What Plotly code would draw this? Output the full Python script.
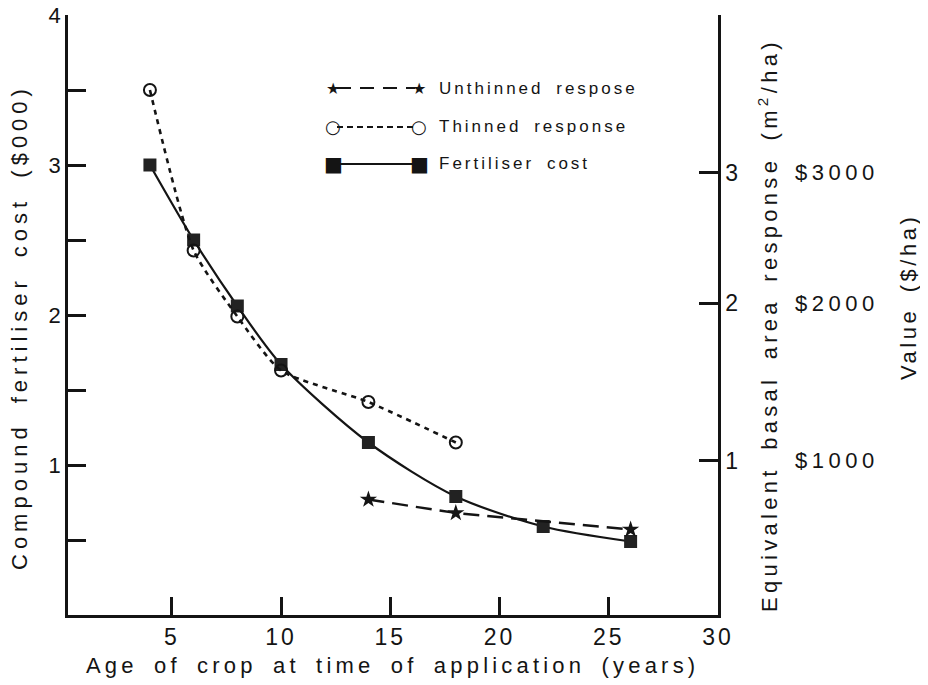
import plotly.graph_objects as go

# ---- data ----
age_cost = [4, 6, 8, 10, 14, 18, 22, 26]
fert_cost = [3.0, 2.5, 2.06, 1.67, 1.15, 0.79, 0.59, 0.49]

age_thin = [4, 6, 8, 10, 14, 18]
thinned = [3.5, 2.43, 1.99, 1.63, 1.42, 1.15]

age_unthin = [14, 18, 26]
unthinned = [0.77, 0.68, 0.57]

x_ticks = [5, 10, 15, 20, 25, 30]
left_ticks = [0.5, 1, 1.5, 2, 2.5, 3, 3.5, 4]
left_labels = ["", "1", "", "2", "", "3", "", "4"]
right_labels = ["1", "2", "3"]
right_tick_pos = [1.03, 2.08, 2.95]   # hand-drawn right scale, in left-axis units
value_labels = ["$1000", "$2000", "$3000"]

legend_names = ["Unthinned respose", "Thinned response", "Fertiliser cost"]

INK = "#141414"
FONT = "Liberation Sans, Arial, sans-serif"

# the page body has an 8px margin, so work in screen pixels and shift back
OFF = 8
W, H = 928 - OFF, 685 - OFF
PLOT_L, PLOT_R, PLOT_T, PLOT_B = 68, 718, 15, 615   # screen pixels of the plot box
L, T = PLOT_L - OFF, PLOT_T - OFF
R, B = W - (PLOT_R - OFF), H - (PLOT_B - OFF)
PW, PH = PLOT_R - PLOT_L, PLOT_B - PLOT_T


def px_x(x):
    return (x - PLOT_L) / PW


def px_y(y):
    return 1 - (y - PLOT_T) / PH


def sp(text, ls=3, ws=5):
    # widen letter / word spacing like the old typeset figure
    return '<span style="letter-spacing:%.1fpx;word-spacing:%.1fpx">%s</span>' % (ls, ws, text)


fig = go.Figure()

# ---- data traces ----
fig.add_trace(go.Scatter(
    x=age_cost, y=fert_cost, mode="lines+markers",
    line=dict(color=INK, width=2.2, shape="spline", smoothing=0.8),
    marker=dict(symbol="square", size=13, color="#222"),
    showlegend=False
))

fig.add_trace(go.Scatter(
    x=age_thin, y=thinned, mode="lines+markers",
    line=dict(color=INK, width=2.6, dash="5px,5px", shape="spline", smoothing=0.6),
    marker=dict(symbol="circle-open", size=12, color=INK, line=dict(width=2)),
    showlegend=False
))

fig.add_trace(go.Scatter(
    x=age_unthin, y=unthinned, mode="lines+markers",
    line=dict(color=INK, width=2.4, dash="16px,8px"),
    marker=dict(symbol="star", size=13, color=INK),
    showlegend=False
))

# dummy trace so the right axis is drawn
fig.add_trace(go.Scatter(x=[None], y=[None], yaxis="y2", showlegend=False))

# ---- hand-made legend (samples with a marker at both ends) ----
leg_x0, leg_x1, leg_text_x = 333, 419, 437
leg_rows = [88, 127, 164]
leg_dash = ["14px,9px", "6px,4px", "solid"]
leg_sym = ["★", "○", "■"]
leg_sym_size = [16, 18, 20]
for yy, dash, sym, ssz, name in zip(leg_rows, leg_dash, leg_sym, leg_sym_size, legend_names):
    fig.add_shape(
        type="line", xref="paper", yref="paper",
        x0=px_x(leg_x0 + 4), x1=px_x(leg_x1 - 4), y0=px_y(yy), y1=px_y(yy),
        line=dict(color=INK, width=2.2, dash=dash)
    )
    for xx in (leg_x0, leg_x1):
        fig.add_annotation(
            x=px_x(xx), y=px_y(yy), xref="paper", yref="paper", showarrow=False,
            text=sym, font=dict(size=ssz, color=INK, family="DejaVu Sans"),
            xanchor="center", yanchor="middle"
        )
    fig.add_annotation(
        x=px_x(leg_text_x), y=px_y(yy), xref="paper", yref="paper",
        xanchor="left", yanchor="middle",
        text=sp(name, 3, 5), showarrow=False, font=dict(size=17, color=INK, family=FONT)
    )

# ---- right-hand labels and titles ----
for pos, lab in zip(right_tick_pos, value_labels):
    fig.add_annotation(
        x=px_x(837), y=pos, xref="paper", yref="y", showarrow=False,
        xanchor="center", yanchor="middle",
        text=sp(lab, 4.5, 0), font=dict(size=22, color=INK, family=FONT)
    )

titles = [
    dict(text="Compound fertiliser cost ($000)", x=19, y=327, angle=-90, ls=5, ws=8),
    dict(text="Equivalent basal area response (m<sup>2</sup>/ha)", x=768, y=325, angle=-90, ls=4.3, ws=6),
    dict(text="Value ($/ha)", x=908, y=297, angle=-90, ls=3.5, ws=6),
    dict(text="Age of crop at time of application (years)", x=392, y=665, angle=0, ls=4.2, ws=6),
]
for t in titles:
    fig.add_annotation(
        x=px_x(t["x"]), y=px_y(t["y"]), xref="paper", yref="paper",
        xanchor="center", yanchor="middle", textangle=t["angle"],
        text=sp(t["text"], t["ls"], t["ws"]), showarrow=False,
        font=dict(size=22, color=INK, family=FONT)
    )

fig.update_layout(
    width=W, height=H,
    margin=dict(l=L, r=R, t=T, b=B, autoexpand=False),
    paper_bgcolor="white", plot_bgcolor="white",
    font=dict(family=FONT, color=INK, size=22),
    xaxis=dict(
        range=[0.25, 30], showgrid=False, zeroline=False, automargin=False,
        showline=True, linecolor=INK, linewidth=2.5,
        tickvals=x_ticks, ticktext=[sp(str(v), 3, 0) for v in x_ticks],
        ticklabeloverflow="allow",
        ticks="inside", ticklen=18, tickwidth=2.5, tickcolor=INK,
        tickfont=dict(size=23),
    ),
    yaxis=dict(
        range=[0, 4], showgrid=False, zeroline=False, automargin=False,
        showline=True, linecolor=INK, linewidth=2.5,
        tickvals=left_ticks, ticktext=left_labels, ticklabeloverflow="allow",
        ticks="inside", ticklen=18, tickwidth=2.5, tickcolor=INK,
        tickfont=dict(size=22),
    ),
    yaxis2=dict(
        range=[0, 4], overlaying="y", side="right", anchor="x", automargin=False,
        showgrid=False, zeroline=False, ticklabeloverflow="allow",
        showline=True, linecolor=INK, linewidth=2.5,
        tickvals=right_tick_pos, ticktext=right_labels,
        ticks="inside", ticklen=19, tickwidth=2.5, tickcolor=INK,
        tickfont=dict(size=23),
    ),
)

fig.write_html("out.html")
